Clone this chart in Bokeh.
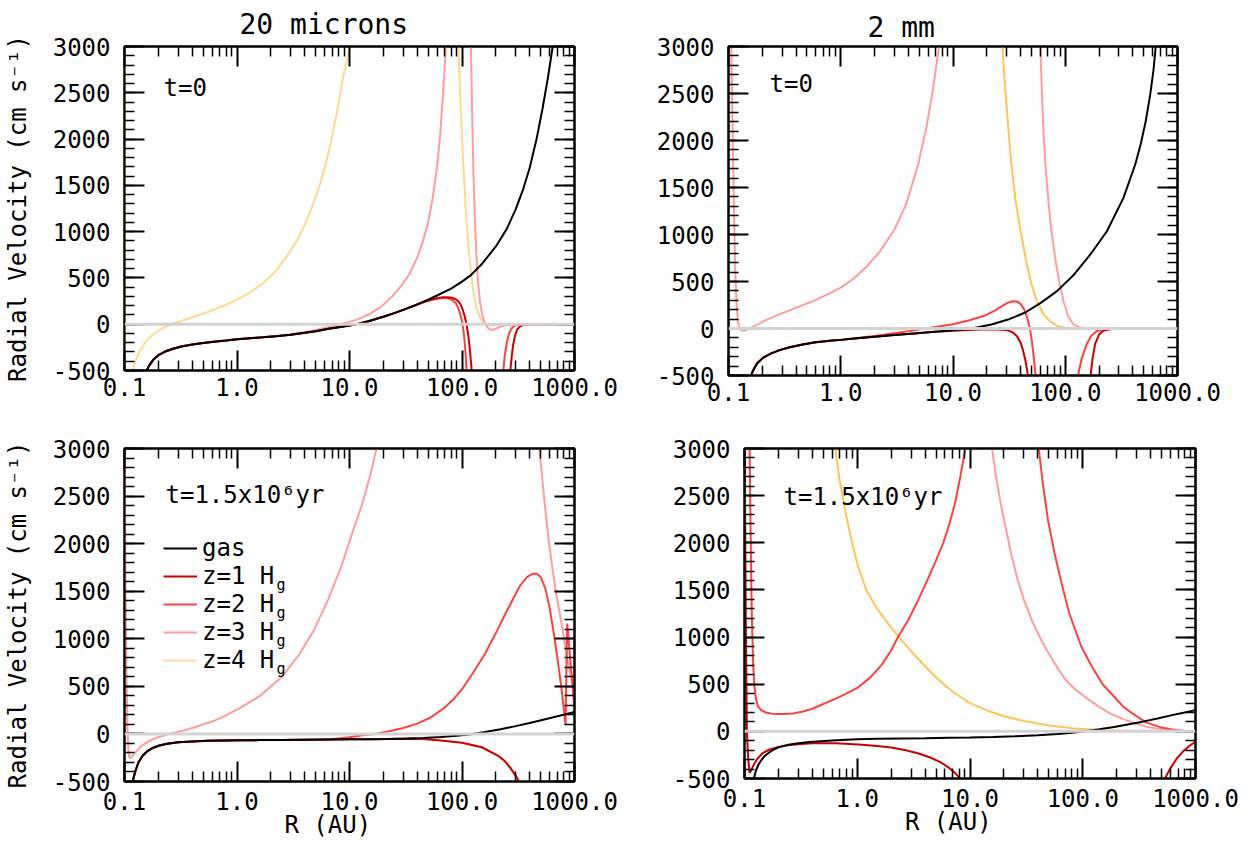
import numpy as np
from bokeh.plotting import figure
from bokeh.models import Range1d, FixedTicker, LinearAxis, LogAxis, Span, Label, Legend, LegendItem
from bokeh.layouts import column, row
from bokeh.embed import file_html
from bokeh.resources import INLINE

N = float("nan")
FONT = "DejaVu Sans Mono"

# ---------------- axes ----------------
X_TICKS = [0.1, 1, 10, 100, 1000]
X_TICK_LABELS = ["0.1", "1.0", "10.0", "100.0", "1000.0"]
X_MINOR = [0.2, 0.3, 0.4, 0.5, 0.6, 0.7, 0.8, 0.9, 2, 3, 4, 5, 6, 7, 8, 9,
           20, 30, 40, 50, 60, 70, 80, 90, 200, 300, 400, 500, 600, 700, 800, 900]
Y_TICKS = [-500, 0, 500, 1000, 1500, 2000, 2500, 3000]
Y_TICK_LABELS = ["-500", "0", "500", "1000", "1500", "2000", "2500", "3000"]
Y_MINOR = list(range(-500, 3001, 100))

LABELS = ["gas", "z=1 H", "z=2 H", "z=3 H", "z=4 H"]

# ---------------- panel: 20 microns, t=0 ----------------
tl_gas_r = [0.155, 0.165, 0.18, 0.2, 0.23, 0.27, 0.32, 0.4, 0.5, 0.65, 0.8, 1.0, 1.3, 1.7, 2.2, 3, 4, 5, 6.5, 8, 10, 12, 15, 20, 25, 30, 40, 50, 60, 80, 100, 120, 150, 200, 250, 300, 350, 400, 460, 520, 580, 640, 700]
tl_gas_v = [-520, -450, -385, -335, -295, -265, -240, -220, -203, -188, -177, -163, -152, -141, -129, -113, -93, -75, -50, -33, -15, 5, 35, 80, 120, 155, 215, 265, 310, 385, 460, 530, 650, 840, 1030, 1240, 1460, 1690, 2000, 2330, 2660, 3000, 3350]
tl_z1_r = [0.155, 0.165, 0.18, 0.2, 0.23, 0.27, 0.32, 0.4, 0.5, 0.65, 0.8, 1.0, 1.3, 1.7, 2.2, 3, 4, 5, 6.5, 8, 10, 12, 15, 20, 25, 30, 40, 50, 58, 66, 74, 82, 90, 96, 101, 106, 110, 114, 118, 121, 124, N, 255, 262, 269, 276, 285, 296, 310, 330, 360, 420, 1000]
tl_z1_v = [-520, -450, -385, -335, -295, -265, -240, -220, -203, -188, -177, -163, -152, -141, -129, -113, -93, -75, -50, -33, -15, 5, 35, 80, 120, 155, 215, 255, 278, 290, 292, 285, 262, 225, 165, 80, -10, -130, -300, -450, -650, N, -800, -650, -500, -360, -220, -120, -55, -20, -6, 0, 0]
tl_z2_r = [0.155, 0.165, 0.18, 0.2, 0.23, 0.27, 0.32, 0.4, 0.5, 0.65, 0.8, 1.0, 1.3, 1.7, 2.2, 3, 4, 5, 6.5, 8, 10, 12, 15, 20, 25, 30, 38, 46, 54, 62, 70, 76, 82, 88, 93, 97, 100, 103, 106, 108, 110, 112, N, 220, 227, 233, 240, 250, 262, 276, 295, 330, 400, 1000]
tl_z2_v = [-520, -450, -385, -335, -295, -265, -240, -220, -203, -188, -177, -163, -152, -141, -129, -113, -93, -75, -50, -33, -15, 5, 35, 80, 120, 155, 200, 240, 265, 278, 282, 278, 262, 228, 170, 100, 30, -70, -210, -350, -520, -700, N, -800, -650, -500, -340, -200, -100, -45, -15, -4, 0, 0]
tl_z3_r = [0.155, 0.165, 0.18, 0.2, 0.23, 0.27, 0.32, 0.4, 0.5, 0.65, 0.8, 1.0, 1.3, 1.7, 2.2, 3, 4, 5, 6.5, 8, 10, 12, 15, 19, 24, 29, 34, 40, 45, 50, 55, 60, 64, 68, 72, 76, N, 117, 120, 123, 126, 130, 134, 139, 145, 152, 160, 170, 182, 196, 215, 245, 290, 350, 1000]
tl_z3_v = [-520, -450, -385, -335, -295, -265, -240, -220, -203, -188, -177, -163, -152, -141, -129, -108, -85, -62, -32, -5, 25, 55, 110, 185, 300, 420, 540, 720, 900, 1100, 1370, 1700, 2050, 2500, 3000, 3600, N, 3500, 3000, 2300, 1700, 1150, 760, 450, 230, 90, 10, -40, -62, -55, -30, -10, -2, 0, 0]
tl_z4_r = [0.1008, 0.1009, 0.117, 0.125, 0.135, 0.15, 0.17, 0.2, 0.24, 0.27, 0.32, 0.4, 0.5, 0.65, 0.8, 1.0, 1.3, 1.7, 2.2, 2.8, 3.4, 4.0, 4.7, 5.5, 6.3, 7.1, 7.9, 8.7, 9.5, 10.1, 10.8, N, 90, 93, 97, 102, 108, 114, 120, 127, 135, 145, 155, 167, 180, 200, 240, 300, 1000]
tl_z4_v = [3500, -3000, -500, -400, -300, -210, -135, -70, -20, 5, 35, 75, 115, 165, 210, 265, 340, 440, 570, 740, 900, 1070, 1280, 1520, 1780, 2060, 2350, 2650, 2850, 3000, 3300, N, 3500, 3000, 2400, 1800, 1250, 850, 560, 330, 170, 65, 15, -8, -14, -7, -1, 0, 0]

# ---------------- panel: 2 mm, t=0 ----------------
tr_gas_r = [0.155, 0.165, 0.18, 0.204, 0.24, 0.285, 0.35, 0.47, 0.6, 0.8, 1.0, 1.4, 2, 3, 4.5, 6.5, 10, 14.7, 22, 31, 44, 61, 85, 120, 168, 235, 330, 420, 470, 520, 570, 610, 640, 680]
tr_gas_v = [-540, -450, -370, -310, -265, -230, -200, -167, -147, -130, -121, -105, -88, -70, -52, -36, -18, 0, 42, 95, 170, 275, 400, 575, 790, 1035, 1390, 1745, 1960, 2200, 2480, 2740, 3000, 3350]
tr_z1_r = [0.155, 0.165, 0.18, 0.204, 0.24, 0.285, 0.35, 0.47, 0.6, 0.8, 1.0, 1.4, 2, 3, 4.5, 6.5, 10, 14, 18, 23, 27, 31, 34, 37, 40, 42, 44, 46, 47.5, N, 158, 163, 168, 175, 185, 200, 220, 260, 320, 1000]
tr_z1_v = [-540, -450, -370, -310, -265, -230, -200, -167, -147, -130, -121, -105, -88, -70, -52, -38, -25, -15, -10, -9, -12, -22, -40, -80, -150, -230, -330, -460, -600, N, -800, -650, -500, -320, -160, -65, -22, -5, 0, 0]
tr_z2_r = [0.155, 0.165, 0.18, 0.204, 0.24, 0.285, 0.35, 0.47, 0.6, 0.8, 1.0, 1.4, 2, 3, 4.5, 6.5, 10, 14, 19, 24, 28, 31, 34, 37, 40, 43, 46, 48, 50, 52, 54, 55.5, N, 124, 130, 140, 155, 170, 190, 220, 280, 1000]
tr_z2_v = [-540, -450, -370, -310, -265, -230, -200, -167, -147, -130, -121, -102, -80, -50, -20, 10, 45, 88, 135, 195, 245, 275, 290, 288, 262, 205, 110, 20, -100, -270, -460, -650, N, -750, -500, -320, -170, -80, -30, -8, 0, 0]
tr_z3_r = [0.103, 0.106, 0.109, 0.112, 0.115, 0.118, 0.122, 0.127, 0.133, 0.142, 0.155, 0.17, 0.19, 0.22, 0.27, 0.34, 0.45, 0.6, 0.8, 1.0, 1.3, 1.7, 2.2, 3.0, 3.85, 4.9, 5.8, 6.6, 7.5, 8.2, N, 59, 60, 62, 64, 67, 71, 75, 82, 89, 97, 106, 118, 135, 170, 1000]
tr_z3_v = [3500, 3000, 2000, 1200, 600, 250, 60, -10, -25, -18, 0, 25, 55, 95, 140, 187, 245, 305, 375, 435, 530, 660, 810, 1050, 1330, 1750, 2140, 2530, 3000, 3400, N, 3300, 3000, 2500, 2080, 1700, 1340, 1060, 720, 480, 280, 130, 45, 10, 0, 0]
tr_z4_r = [27, 27.5, 29, 31, 33, 36, 40, 44.5, 49.5, 56, 64, 74, 85, 100, 120, 1000]
tr_z4_v = [3200, 3000, 2600, 2150, 1760, 1370, 1035, 740, 490, 290, 155, 70, 28, 8, 1, 0]

# ---------------- panel: 20 microns, t=1.5e6 yr ----------------
bl_gas_r = [0.112, 0.118, 0.125, 0.133, 0.145, 0.16, 0.18, 0.2, 0.24, 0.3, 0.4, 0.55, 0.75, 1.07, 1.6, 2.5, 4, 6.5, 10, 15, 22, 32, 45, 65, 90, 120, 160, 220, 300, 400, 550, 750, 1000]
bl_gas_v = [-700, -500, -390, -300, -230, -180, -145, -125, -103, -88, -79, -73, -70, -67, -65, -63, -61, -59, -57, -55, -52, -48, -42, -32, -18, -3, 20, 50, 82, 115, 155, 193, 230]
bl_z1_r = [0.112, 0.118, 0.125, 0.133, 0.145, 0.16, 0.18, 0.2, 0.24, 0.3, 0.4, 0.55, 0.75, 1.07, 1.6, 2.5, 4, 6.5, 10, 15, 22, 32, 45, 65, 100, 150, 210, 240, 270, 300, 320, 335]
bl_z1_v = [-700, -500, -390, -300, -230, -180, -145, -125, -103, -88, -79, -73, -70, -67, -65, -63, -61, -59, -57, -55, -52, -50, -54, -68, -92, -140, -230, -285, -360, -440, -500, -560]
bl_z2_r = [0.112, 0.118, 0.125, 0.133, 0.145, 0.16, 0.18, 0.2, 0.24, 0.3, 0.4, 0.55, 0.75, 1.07, 1.6, 2.5, 4, 6.5, 10, 13, 16.7, 22, 30, 40, 52, 69, 85, 100, 125, 158, 200, 240, 290, 333, 380, 420, 460, 500, 550, 600, 650, 700, 760, 832, 861, 1000]
bl_z2_v = [-700, -500, -390, -300, -230, -180, -145, -125, -103, -88, -79, -73, -70, -67, -65, -63, -61, -59, -35, -15, 0, 25, 62, 108, 170, 270, 370, 470, 640, 830, 1060, 1250, 1440, 1570, 1650, 1680, 1686, 1650, 1530, 1330, 1080, 820, 510, 99, 1161, 257]
bl_z3_r = [0.1, 0.101, 0.102, 0.104, 0.106, 0.108, 0.11, 0.112, 0.116, 0.122, 0.13, 0.14, 0.158, 0.18, 0.2, 0.23, 0.26, 0.3, 0.35, 0.42, 0.5, 0.6, 0.75, 1.07, 1.6, 2.46, 3.5, 4.8, 6.5, 8.6, 10.5, 13, 15.3, 17.4, 19, N, 470, 488, 540, 594, 680, 770, 870, 1000]
bl_z3_v = [3500, 2500, 1600, 700, 100, -150, -240, -255, -240, -210, -170, -130, -90, -55, -35, -12, 5, 22, 42, 70, 100, 130, 180, 274, 400, 590, 820, 1083, 1420, 1787, 2100, 2420, 2720, 3000, 3250, N, 3300, 3000, 2450, 2000, 1500, 1150, 760, 425]
bl_z4_r = [0.112, 0.118, 0.125, 0.133, 0.145, 0.16, 0.18, 0.2, 0.24, 0.3, 0.4, 0.55, 0.75, 1.07, 1.6, 2.5, 4, 6.5, 10, 15, 22, 32, 45, 65, 100, 150, 210, 240, 270, 300, 330, 350]
bl_z4_v = [-700, -500, -390, -300, -230, -180, -145, -125, -103, -88, -79, -73, -70, -67, -65, -63, -61, -59, -57, -55, -52, -50, -54, -68, -92, -140, -230, -285, -355, -425, -500, -565]

# ---------------- panel: 2 mm, t=1.5e6 yr ----------------
br_gas_r = [0.118, 0.121, 0.126, 0.132, 0.14, 0.15, 0.165, 0.18, 0.2, 0.245, 0.3, 0.38, 0.476, 0.6, 0.8, 1.0, 1.5, 2.5, 4, 6.5, 10, 16, 25, 40, 60, 80, 105, 140, 190, 250, 340, 460, 620, 800, 1000]
br_gas_v = [-650, -500, -420, -360, -310, -265, -225, -195, -170, -141, -125, -113, -105, -97, -89, -84, -79, -75, -72, -68, -64, -59, -53, -42, -28, -14, 2, 22, 47, 72, 103, 137, 172, 200, 225]
br_z1_r = [0.1, 0.101, 0.103, 0.105, 0.108, 0.111, 0.114, 0.12, 0.13, 0.145, 0.165, 0.2, 0.25, 0.32, 0.4, 0.5, 0.65, 0.85, 1.1, 1.5, 2.0, 2.7, 3.5, 4.5, 5.5, 6.5, 7.5, 8.3, 9.2, N, 470, 535, 600, 680, 780, 880, 1000]
br_z1_v = [3500, 2500, 1000, 0, -300, -440, -420, -360, -290, -230, -195, -165, -145, -133, -127, -125, -127, -133, -141, -155, -172, -200, -235, -280, -330, -385, -450, -510, -580, N, -640, -500, -390, -290, -210, -155, -110]
br_z2_r = [0.104, 0.108, 0.111, 0.113, 0.116, 0.119, 0.122, 0.126, 0.131, 0.14, 0.155, 0.175, 0.2, 0.226, 0.27, 0.33, 0.4, 0.5, 0.65, 0.8, 1.0, 1.3, 1.66, 2.0, 2.3, 2.8, 3.4, 4.1, 4.9, 5.8, 6.6, 7.4, 8.2, 9.1, 9.8, N, 39, 40.7, 44, 49, 56, 64, 76, 97, 120, 150, 189, 230, 275, 364, 500, 650, 800, 1000]
br_z2_v = [3500, 3300, 3000, 2200, 1250, 750, 500, 350, 270, 225, 200, 188, 183, 183, 190, 210, 240, 290, 350, 400, 460, 570, 710, 860, 1000, 1170, 1370, 1580, 1790, 2000, 2210, 2430, 2700, 3000, 3300, N, 3400, 3000, 2650, 2250, 1900, 1600, 1250, 900, 690, 500, 370, 260, 190, 95, 40, 15, 5, 0]
br_z3_r = [15, 15.7, 17, 18.5, 20, 23, 26.5, 30, 35, 40, 46, 55, 70, 85, 106, 140, 174, 230, 285, 380, 560, 800, 1000]
br_z3_v = [3400, 3000, 2700, 2450, 2250, 1900, 1606, 1400, 1190, 1040, 900, 740, 550, 450, 360, 260, 190, 130, 88, 45, 15, 3, 0]
br_z4_r = [0.6, 0.638, 0.7, 0.8, 0.9, 1.0, 1.2, 1.5, 2.0, 2.3, 3.0, 4.0, 5.0, 7.0, 10, 15, 20, 30, 50, 80, 150, 300, 1000]
br_z4_v = [3400, 3000, 2650, 2280, 2000, 1780, 1500, 1300, 1100, 1010, 850, 690, 570, 420, 300, 210, 160, 110, 62, 33, 12, 3, 0]

C_GAS = "#000000"
C_Z1 = "#c80000"
C_Z2 = "#ff4040"
C_Z3 = "#ff9d9d"


def style_axis(ax, ticker_ticks, minor, labels, show):
    ax.ticker = FixedTicker(ticks=ticker_ticks, minor_ticks=minor)
    ax.major_tick_in = 20
    ax.major_tick_out = 0
    ax.minor_tick_in = 10
    ax.minor_tick_out = 0
    ax.major_tick_line_width = 2
    ax.minor_tick_line_width = 1.5
    ax.major_tick_line_color = "black"
    ax.minor_tick_line_color = "black"
    ax.axis_line_width = 2
    ax.axis_line_color = "black"
    ax.major_label_text_font = FONT
    if show:
        ax.major_label_overrides = {t: l for t, l in zip(ticker_ticks, labels)}
        ax.major_label_text_font_size = "24px"
        ax.major_label_text_color = "black"
    else:
        ax.major_label_text_font_size = "0px"
        ax.major_label_text_color = None
        ax.major_label_standoff = 0


def make_panel(fw, fh, bl, br, bt, bb, title, title_offset, title_standoff, ylabel, xlabel):
    p = figure(x_axis_type="log", x_range=Range1d(0.1, 1000), y_range=Range1d(-500, 3000),
               frame_width=fw, frame_height=fh,
               min_border_left=bl, min_border_right=br, min_border_top=bt, min_border_bottom=bb,
               output_backend="svg", toolbar_location=None,
               outline_line_color="black", outline_line_width=2)
    if title:
        p.title.text = title
        p.title.align = "left"
        p.title.offset = title_offset
        p.title.standoff = title_standoff
        p.title.text_font = FONT
        p.title.text_font_size = "28px"
        p.title.text_font_style = "normal"
        p.title.text_color = "black"
    p.grid.visible = False
    xa = p.xaxis[0]
    style_axis(xa, X_TICKS, X_MINOR, X_TICK_LABELS, True)
    xa.major_label_standoff = 7
    if xlabel:
        xa.major_label_standoff = 10
        xa.axis_label = xlabel
        xa.axis_label_text_font = FONT
        xa.axis_label_text_font_size = "24px"
        xa.axis_label_text_font_style = "normal"
        xa.axis_label_text_color = "black"
        xa.axis_label_standoff = -2
    ya = p.yaxis[0]
    style_axis(ya, Y_TICKS, Y_MINOR, Y_TICK_LABELS, True)
    ya.major_label_standoff = 14
    if ylabel:
        ya.axis_label = ylabel
        ya.axis_label_text_font = FONT
        ya.axis_label_text_font_size = "24px"
        ya.axis_label_text_font_style = "normal"
        ya.axis_label_text_color = "black"
        ya.axis_label_standoff = 18
    top = LogAxis()
    style_axis(top, X_TICKS, X_MINOR, X_TICK_LABELS, False)
    p.add_layout(top, "above")
    right = LinearAxis()
    style_axis(right, Y_TICKS, Y_MINOR, Y_TICK_LABELS, False)
    p.add_layout(right, "right")
    return p


def add_curves(p, data, c4):
    rends = []
    for (r, v), c in reversed(list(zip(data, [C_GAS, C_Z1, C_Z2, C_Z3, c4]))):
        rends.append(p.line(np.array(r, dtype=float), np.array(v, dtype=float), line_color=c, line_width=2))
    p.add_layout(Span(location=0, dimension="width", line_color="#d3d3d3", line_width=3))
    return list(reversed(rends))


def add_text(p, x, y, text, size="24px"):
    p.add_layout(Label(x=x, y=y, x_units="screen", y_units="screen", text=text,
                       text_font=FONT, text_font_size=size, text_baseline="middle", text_align="left",
                       text_color="black"))


YLAB = "Radial Velocity (cm s\u207b\u00b9)"
XLAB = "R (AU)\u00a0\u00a0\u00a0"

p1 = make_panel(450, 324, 120, 46, 45, 40, "20 microns", 115, 11, YLAB, None)
add_curves(p1, [(tl_gas_r, tl_gas_v), (tl_z1_r, tl_z1_v), (tl_z2_r, tl_z2_v), (tl_z3_r, tl_z3_v), (tl_z4_r, tl_z4_v)], "#ffd890")
add_text(p1, 39, 283, "t=0")

p2 = make_panel(449, 329, 108, 44, 40, 40, "2 mm", 139, 6, None, None)
add_curves(p2, [(tr_gas_r, tr_gas_v), (tr_z1_r, tr_z1_v), (tr_z2_r, tr_z2_v), (tr_z3_r, tr_z3_v), (tr_z4_r, tr_z4_v)], "#ffc45a")
add_text(p2, 41, 292, "t=0")

p3 = make_panel(450, 333, 120, 46, 35, 48, None, 0, 0, YLAB, XLAB)
r3 = add_curves(p3, [(bl_gas_r, bl_gas_v), (bl_z1_r, bl_z1_v), (bl_z2_r, bl_z2_v), (bl_z3_r, bl_z3_v), (bl_z4_r, bl_z4_v)], "#ffd9a0")
add_text(p3, 41, 287, "t=1.5x10\u2076yr")
LEG_X, LEG_Y = 39, 107
legend = Legend(items=[LegendItem(label=l, renderers=[r]) for l, r in zip(LABELS, r3)],
                location=(LEG_X, LEG_Y), glyph_width=34, glyph_height=28, label_height=28, label_standoff=5,
                spacing=0, padding=0, margin=0, border_line_color=None, background_fill_alpha=0,
                label_text_font=FONT, label_text_font_size="24px", label_text_color="black")
p3.add_layout(legend)
for i in range(1, 5):
    add_text(p3, LEG_X + 113, LEG_Y + 28 * (4 - i) + 14 - 8, "g", "15px")

p4 = make_panel(451, 330, 124, 50, 38, 48, None, 0, 0, None, XLAB)
add_curves(p4, [(br_gas_r, br_gas_v), (br_z1_r, br_z1_v), (br_z2_r, br_z2_v), (br_z3_r, br_z3_v), (br_z4_r, br_z4_v)], "#ffc45a")
add_text(p4, 39, 282, "t=1.5x10\u2076yr")

layout = column(row(p1, p2), row(p3, p4))
open("out.html", "w").write(file_html(layout, INLINE, title="Radial velocity"))
